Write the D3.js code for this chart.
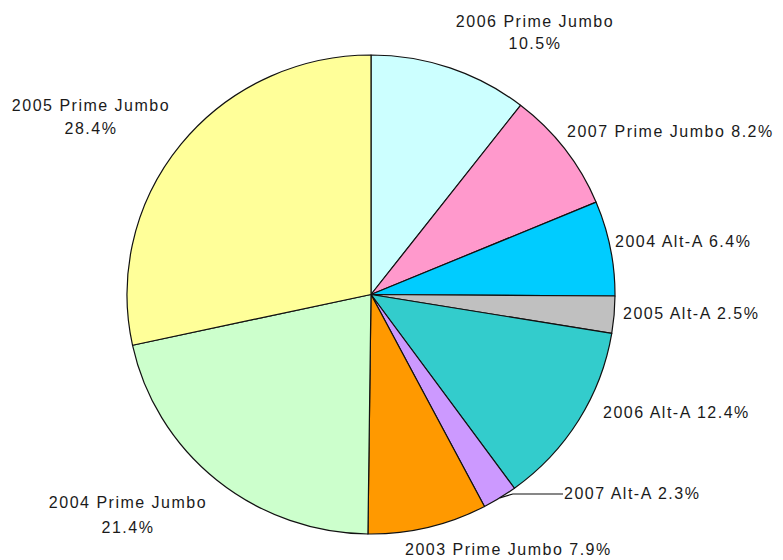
<!DOCTYPE html>
<html>
<head>
<meta charset="utf-8">
<script src="https://cdn.jsdelivr.net/npm/d3@7"></script>
<style>
  html, body { margin: 0; padding: 0; background: #ffffff; }
  svg { display: block; }
  text { font-family: "Liberation Sans", Arial, sans-serif; font-size: 16px; fill: #1a1a1a; letter-spacing: 1.5px; }
</style>
</head>
<body>
<svg id="chart" width="783" height="560"></svg>
<script>
const categories = ["2006 Prime Jumbo", "2007 Prime Jumbo", "2004 Alt-A", "2005 Alt-A", "2006 Alt-A", "2007 Alt-A", "2003 Prime Jumbo", "2004 Prime Jumbo", "2005 Prime Jumbo"];
const values = [10.5, 8.2, 6.4, 2.5, 12.4, 2.3, 7.9, 21.4, 28.4];
const colors = ["#CCFFFF", "#FF99CC", "#00CCFF", "#C0C0C0", "#33CCCC", "#CC99FF", "#FF9900", "#CCFFCC", "#FFFF99"];
const valueLabels = ["10.5%", "8.2%", "6.4%", "2.5%", "12.4%", "2.3%", "7.9%", "21.4%", "28.4%"];

// label layout: [lines, x, centerY of each line, anchor]
const labelLayout = [
  {lines: [categories[0], valueLabels[0]], x: 535, ys: [21, 43.5], anchor: "middle"},
  {lines: [categories[1] + " " + valueLabels[1]], x: 567, ys: [131], anchor: "start"},
  {lines: [categories[2] + " " + valueLabels[2]], x: 615, ys: [241.5], anchor: "start"},
  {lines: [categories[3] + " " + valueLabels[3]], x: 623, ys: [313], anchor: "start"},
  {lines: [categories[4] + " " + valueLabels[4]], x: 603, ys: [412], anchor: "start"},
  {lines: [categories[5] + " " + valueLabels[5]], x: 564, ys: [493], anchor: "start"},
  {lines: [categories[6] + " " + valueLabels[6]], x: 405, ys: [549], anchor: "start"},
  {lines: [categories[7], valueLabels[7]], x: 128, ys: [502, 527], anchor: "middle"},
  {lines: [categories[8], valueLabels[8]], x: 91, ys: [105, 128.5], anchor: "middle"}
];

const svg = d3.select("#chart");
const cx = 371, cy = 294.5, rx = 244, ry = 239.5;
const R = 240;

const data = categories.map((c, i) => ({name: c, value: values[i], color: colors[i], i}));
const pie = d3.pie().value(d => d.value).sort(null);
const arcs = pie(data);
const arc = d3.arc().innerRadius(0).outerRadius(R);

const g = svg.append("g").attr("transform", `translate(${cx},${cy}) scale(${rx / R},${ry / R})`);
g.selectAll("path")
  .data(arcs)
  .join("path")
  .attr("d", arc)
  .attr("fill", d => d.data.color)
  .attr("stroke", "#111")
  .attr("stroke-width", 1.2)
  .attr("vector-effect", "non-scaling-stroke")
  .attr("stroke-linejoin", "round");

// leader line for 2007 Alt-A
const a5 = arcs[5];
const mid = (a5.startAngle + a5.endAngle) / 2;
const ex = cx + rx * Math.sin(mid), ey = cy - ry * Math.cos(mid);
const L = labelLayout[5];
svg.append("polyline")
  .attr("points", [[ex, ey], [ex + 13, L.ys[0] + 1], [L.x - 1, L.ys[0] + 1]].map(p => p.join(",")).join(" "))
  .attr("fill", "none")
  .attr("stroke", "#111")
  .attr("stroke-width", 1.2);

// labels
labelLayout.forEach(lab => {
  lab.lines.forEach((line, k) => {
    svg.append("text")
      .attr("x", lab.x)
      .attr("y", lab.ys[k])
      .attr("dy", "0.36em")
      .attr("text-anchor", lab.anchor)
      .text(line);
  });
});
</script>
</body>
</html>
